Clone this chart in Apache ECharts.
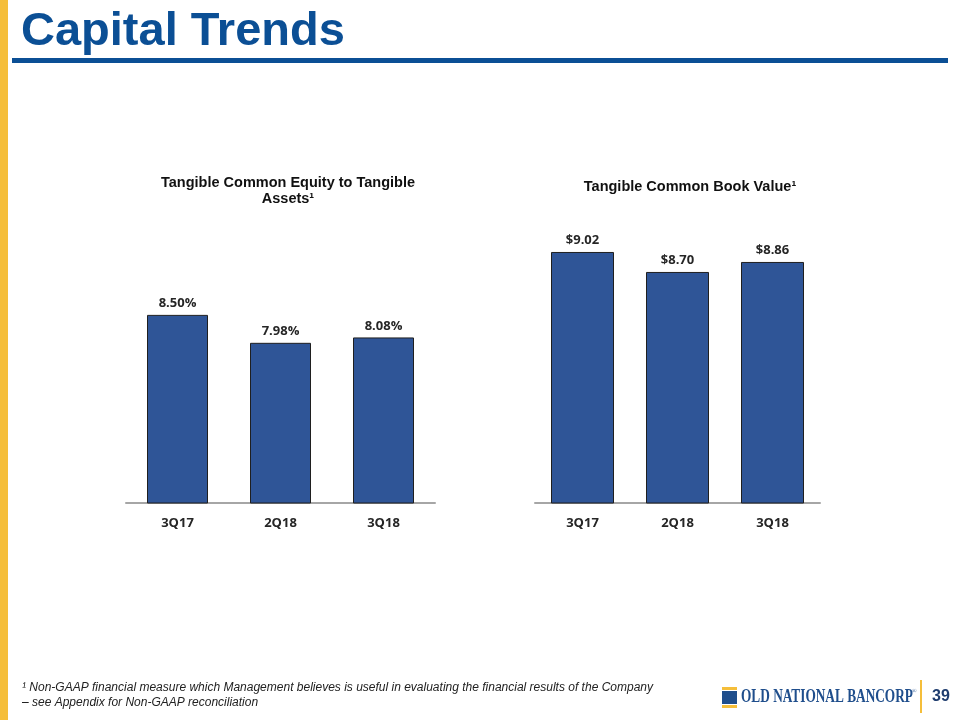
<!DOCTYPE html>
<html>
<head>
<meta charset="utf-8">
<script src="https://cdn.jsdelivr.net/npm/echarts@6/dist/echarts.min.js"></script>
<style>
html,body{margin:0;padding:0;background:#fff;}
#main{width:960px;height:720px;}
</style>
</head>
<body>
<div id="main"></div>
<script>
// ---- data ----
const categories = ['3Q17', '2Q18', '3Q18'];
const tceValues = [8.50, 7.98, 8.08];       // Tangible Common Equity to Tangible Assets (%)
const tbvValues = [9.02, 8.70, 8.86];       // Tangible Common Book Value ($)
const pageTitle = 'Capital Trends';
const leftTitle = 'Tangible Common Equity to Tangible\nAssets¹';
const rightTitle = 'Tangible Common Book Value¹';
const footnote1 = '¹ Non-GAAP financial measure which Management believes is useful in evaluating the financial results of the Company';
const footnote2 = '– see Appendix for Non-GAAP reconciliation';
const pageNumber = '39';

const BLUE = '#0b4f95';
const BAR = '#2f5597';
const YELLOW = '#f5be3a';

const chart = echarts.init(document.getElementById('main'));

const axisX = (gi) => ({
  type: 'category', gridIndex: gi, data: categories,
  axisLine: {lineStyle: {color: '#a6a6a6', width: 2}},
  axisTick: {show: false},
  axisLabel: {margin: 14, fontFamily: 'Open Sans', fontWeight: 'bold', fontSize: 13, color: '#262626'}
});
const axisY = (gi, min, max) => ({
  type: 'value', gridIndex: gi, min: min, max: max, show: false,
  splitLine: {show: false}
});
const barSeries = (gi, data, w, fmt) => ({
  type: 'bar', xAxisIndex: gi, yAxisIndex: gi, data: data, barWidth: w,
  itemStyle: {color: BAR, borderColor: '#1f1f1f', borderWidth: 1},
  label: {show: true, position: 'top', distance: 5, formatter: fmt,
    fontFamily: 'Open Sans', fontWeight: 'bold', fontSize: 13, color: '#262626'},
  silent: true
});

chart.setOption({
  animation: false,
  backgroundColor: '#ffffff',
  title: [
    {text: leftTitle, left: 283, top: 170, textAlign: 'center',
      textStyle: {fontFamily: 'Liberation Sans', fontWeight: 'bold', fontSize: 14.5, color: '#111', lineHeight: 16}},
    {text: rightTitle, left: 685, top: 174, textAlign: 'center',
      textStyle: {fontFamily: 'Liberation Sans', fontWeight: 'bold', fontSize: 14.5, color: '#111'}}
  ],
  grid: [
    {left: 126, width: 309, top: 288, bottom: 217},
    {left: 535, width: 285, top: 222, bottom: 217}
  ],
  xAxis: [axisX(0), axisX(1)],
  yAxis: [axisY(0, 5, 9), axisY(1, 5, 9.5)],
  series: [
    barSeries(0, tceValues, 61, p => p.value.toFixed(2) + '%'),
    barSeries(1, tbvValues, 63, p => '$' + p.value.toFixed(2))
  ],
  graphic: [
    {type: 'rect', left: 0, top: 0, shape: {width: 8, height: 720}, style: {fill: YELLOW}, silent: true},
    {type: 'text', x: 21, y: 9,
      style: {text: pageTitle, fontFamily: 'Liberation Sans', fontWeight: 'bold', fontSize: 47, fill: BLUE}},
    {type: 'rect', shape: {x: 12, y: 58, width: 936, height: 5}, style: {fill: BLUE}, silent: true},
    {type: 'text', x: 22, y: 682,
      style: {text: footnote1, fontFamily: 'Liberation Sans', fontStyle: 'italic', fontSize: 12, fill: '#222'}},
    {type: 'text', x: 22, y: 697,
      style: {text: footnote2, fontFamily: 'Liberation Sans', fontStyle: 'italic', fontSize: 12, fill: '#222'}},
    // logo
    {type: 'rect', shape: {x: 722, y: 687, width: 15, height: 3}, style: {fill: YELLOW}},
    {type: 'rect', shape: {x: 722, y: 691, width: 15, height: 13}, style: {fill: '#1f4e8c'}},
    {type: 'rect', shape: {x: 722, y: 705, width: 15, height: 3}, style: {fill: YELLOW}},
    {type: 'text', x: 741, y: 688, scaleX: 0.7,
      style: {text: 'OLD NATIONAL BANCORP', fontFamily: 'Liberation Serif', fontWeight: 'bold', fontSize: 19, fill: '#1f4e8c'}},
    {type: 'text', x: 912, y: 688, style: {text: '®', fontFamily: 'Liberation Serif', fontSize: 6, fill: '#1f4e8c'}},
    {type: 'rect', shape: {x: 920, y: 680, width: 2, height: 33}, style: {fill: YELLOW}},
    {type: 'text', x: 932, y: 689,
      style: {text: pageNumber, fontFamily: 'Liberation Sans', fontWeight: 'bold', fontSize: 16, fill: '#1f3d6e'}}
  ]
});
</script>
</body>
</html>
